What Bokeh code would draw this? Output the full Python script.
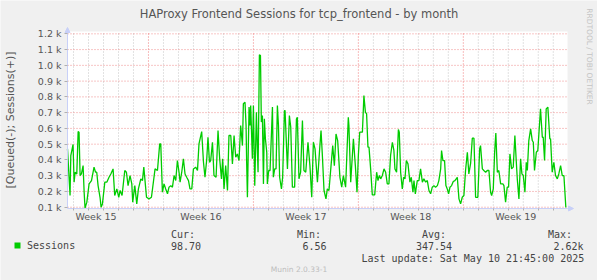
import math
from bokeh.plotting import figure
from bokeh.models import (Range1d, FixedTicker, Label, BoxAnnotation,
                          Arrow, NormalHead)
from bokeh.embed import file_html
from bokeh.resources import INLINE

# ---- data (days relative to start of Week 16, sessions) ----
days = [
    -5.40, -5.23, -5.18, -5.03, -4.96, -4.89, -4.78, -4.69, -4.63, -4.56,
    -4.47, -4.36, -4.29, -4.23, -4.11, -3.96, -3.80, -3.63, -3.53, -3.45,
    -3.36, -3.23, -3.16, -3.07, -2.91, -2.78, -2.63, -2.51, -2.36, -2.25,
    -2.11, -1.98, -1.89, -1.76, -1.58, -1.47, -1.36, -1.23, -1.11, -1.05,
    -0.91, -0.78, -0.67, -0.51, -0.40, -0.31, -0.13, 0.04, 0.20, 0.44,
    0.60, 0.75, 0.82,
    0.93, 1.04, 1.15, 1.27, 1.37, 1.49, 1.60, 1.71, 1.82, 1.93,
    2.04, 2.11, 2.22, 2.33, 2.44, 2.55, 2.67, 2.77, 2.89, 3.00,
    3.15, 3.27, 3.37, 3.55, 3.67, 3.77, 3.89, 3.97, 4.07, 4.15,
    4.27, 4.37, 4.51, 4.64, 4.75, 4.87, 4.95, 5.04, 5.15, 5.27,
    5.37, 5.49, 5.60, 5.71, 5.82, 5.93, 6.04, 6.15, 6.27, 6.33,
    6.44, 6.51, 6.55, 6.60, 6.71, 6.77, 6.82, 6.93, 7.00, 7.09,
    7.20, 7.27, 7.31, 7.40, 7.47, 7.53, 7.60, 7.67, 7.73, 7.80,
    7.89, 7.93, 8.02, 8.11,
    8.27, 8.33, 8.42, 8.51, 8.60, 8.67, 8.75, 8.87, 8.95, 9.07,
    9.11, 9.27, 9.40, 9.49, 9.60, 9.75, 9.87, 9.93, 10.04, 10.15,
    10.27, 10.37, 10.49, 10.64, 10.77, 10.89, 11.00, 11.11, 11.27, 11.42,
    11.51, 11.60, 11.71, 11.84, 11.93, 12.04, 12.29, 12.40, 12.51, 12.62,
    12.77, 12.89, 13.00, 13.15, 13.33, 13.37, 13.49, 13.67, 13.80, 13.91,
    14.00, 14.09,
    14.15, 14.27, 14.37, 14.47, 14.55, 14.64, 14.71, 14.82, 14.93, 15.09,
    15.22, 15.31, 15.40, 15.49, 15.60, 15.71, 15.82, 15.93, 16.04, 16.15,
    16.27, 16.37, 16.44, 16.55, 16.67, 16.73, 16.82, 16.93, 17.02, 17.11,
    17.20, 17.31, 17.44, 17.53, 17.64, 17.71, 17.80, 17.93, 18.04, 18.15,
    18.27, 18.37, 18.49, 18.60, 18.71, 18.82, 18.93, 19.04, 19.15, 19.27,
    19.37, 19.49, 19.55, 19.64, 19.75, 19.84, 19.93, 20.02, 20.11, 20.22,
    20.33, 20.44, 20.60, 20.71,
    20.82, 20.93, 21.04, 21.15, 21.27, 21.37, 21.49, 21.60, 21.71, 21.82,
    21.97, 22.09, 22.15, 22.27, 22.37, 22.49, 22.60, 22.71, 22.82, 22.89,
    23.00, 23.09, 23.17, 23.27, 23.37, 23.49, 23.64, 23.71, 23.82, 23.93,
    24.02, 24.11, 24.22, 24.33, 24.44, 24.53, 24.60, 24.71, 24.82, 24.91,
    25.00, 25.11, 25.20, 25.27, 25.37, 25.49, 25.60, 25.67, 25.75, 25.87,
    25.97, 26.15, 26.27, 26.33, 26.42, 26.53, 26.64, 26.77, 26.82, 26.93,
    27.04, 27.15, 27.27, 27.37, 27.49, 27.60, 27.71, 27.84,
]
sessions = [
    470, 174, 428, 498, 259, 322, 311, 580, 576, 301,
    311, 364, 195, 94, 132, 248, 269, 354, 322, 322,
    237, 163, 100, 121, 259, 259, 290, 311, 343, 174,
    216, 163, 206, 174, 333, 322, 237, 301, 248, 132,
    237, 121, 216, 280, 269, 354, 163, 153, 163, 343,
    333, 502, 502,
    195, 248, 216, 185, 227, 237, 227, 301, 269, 396,
    322, 259, 322, 407, 311, 290, 269, 216, 216, 343,
    354, 333, 502, 580, 385, 290, 407, 544, 385, 396,
    512, 301, 290, 586, 407, 280, 407, 216, 364, 206,
    555, 555, 375, 555, 417, 438, 396, 618, 491, 756,
    766, 618, 385, 163, 735, 618, 745, 407, 745, 237,
    703, 449, 322, 1067, 1062, 640, 682, 248, 661, 534,
    449, 248, 333, 333,
    735, 290, 343, 343, 745, 618, 290, 216, 290, 713,
    713, 343, 682, 608, 227, 227, 660, 671, 280, 322,
    650, 333, 322, 512, 364, 163, 512, 470, 259, 470,
    586, 428, 206, 153, 216, 206, 491, 364, 565, 523,
    290, 227, 301, 227, 671, 618, 259, 534, 364, 195,
    428, 576,
    576, 576, 808, 703, 692, 481, 481, 343, 178, 178,
    322, 269, 301, 280, 301, 343, 322, 248, 248, 428,
    512, 460, 343, 322, 593, 576, 322, 216, 290, 280,
    396, 375, 259, 290, 195, 269, 185, 269, 269, 343,
    259, 280, 259, 269, 206, 185, 227, 237, 227, 237,
    269, 343, 460, 396, 396, 237, 216, 185, 227, 237,
    263, 269, 290, 153,
    121, 163, 174, 333, 449, 311, 380, 538, 538, 163,
    163, 470, 491, 343, 333, 322, 333, 333, 195, 174,
    216, 449, 571, 322, 333, 248, 248, 237, 132, 227,
    227, 438, 343, 354, 555, 396, 280, 153, 407, 311,
    301, 195, 385, 333, 523, 597, 523, 512, 333, 449,
    460, 724, 544, 544, 396, 724, 735, 534, 534, 322,
    385, 301, 280, 311, 364, 301, 301, 99,
]

y_ticks = [100, 200, 300, 400, 500, 600, 700, 800, 900, 1000, 1100, 1200]
y_tick_labels = ["0.1 k", "0.2 k", "0.3 k", "0.4 k", "0.5 k", "0.6 k",
                 "0.7 k", "0.8 k", "0.9 k", "1.0 k", "1.1 k", "1.2 k"]
week_label_pos = [-3.5, 3.5, 10.5, 17.5, 24.5]
week_labels = ["Week 15", "Week 16", "Week 17", "Week 18", "Week 19"]
week_starts = [0, 7, 14, 21]

title = "HAProxy Frontend Sessions for tcp_frontend - by month"
y_label = "[Queued(-); Sessions(+)]"
series_name = "Sessions"
stat_names = ["Cur:", "Min:", "Avg:", "Max:"]
stat_values = ["98.70", "6.56", "347.54", "2.62k"]
last_update = "Last update: Sat May 10 21:45:00 2025"
watermark = "RRDTOOL / TOBI OETIKER"
footer = "Munin 2.0.33-1"

# ---- layout (canvas pixels) ----
W, H = 597, 280
PL, PR, PT, PB = 67, 567, 31, 208          # plot area edges
X0, X1 = -5.4, 27.95                       # data extent of plot area
Y0, Y1 = 91.8, 1214.8
sx = (X1 - X0) / (PR - PL)
sy = (Y1 - Y0) / (PB - PT)
x_range = Range1d(X0 - PL * sx, X1 + (W - PR) * sx)
y_range = Range1d(Y0 - (H - PB) * sy, Y1 + PT * sy)

GREEN = "#00cc00"
AXIS_BLUE = "#c8d0f8"
TXT = "#555555"
LEG = "#444444"
BG = "#f0f0f0"

p = figure(width=W, height=H, output_backend="svg", toolbar_location=None,
           x_range=x_range, y_range=y_range, min_border=0)
p.title.visible = False
p.background_fill_color = BG
p.border_fill_color = BG
p.outline_line_color = None
p.xgrid.visible = False
p.ygrid.visible = False

# white plot area
p.add_layout(BoxAnnotation(left=X0, right=X1, bottom=Y0, top=Y1,
                           fill_color="white", fill_alpha=1.0,
                           line_color=None, level="underlay"))

# y axis
yax = p.yaxis[0]
yax.fixed_location = X0
yax.bounds = (Y0, Y1)
yax.ticker = FixedTicker(ticks=y_ticks)
yax.major_label_overrides = {t: s for t, s in zip(y_ticks, y_tick_labels)}
yax.axis_line_color = AXIS_BLUE
yax.major_tick_line_color = "#b0b0b0"
yax.major_tick_out = 3
yax.major_tick_in = 0
yax.minor_tick_line_color = None
yax.major_label_standoff = 3
yax.major_label_text_font = "DejaVu Sans"
yax.major_label_text_font_size = "9.5px"
yax.major_label_text_color = TXT

# x axis
day_ticks = list(range(-5, 28))
xax = p.xaxis[0]
xax.fixed_location = Y0
xax.bounds = (X0, X1)
xax.ticker = FixedTicker(ticks=week_label_pos, minor_ticks=day_ticks)
xax.major_label_overrides = {t: s for t, s in zip(week_label_pos, week_labels)}
xax.axis_line_color = AXIS_BLUE
xax.major_tick_line_color = None
xax.major_tick_out = 0
xax.major_tick_in = 0
xax.minor_tick_line_color = "#b0b0b0"
xax.minor_tick_out = 2
xax.minor_tick_in = 0
xax.major_label_standoff = 0
xax.major_label_text_font = "DejaVu Sans"
xax.major_label_text_font_size = "9.5px"
xax.major_label_text_color = TXT

# grid lines (limited to the plot area)
minor_days = [d for d in day_ticks if d not in week_starts]
p.segment(x0=minor_days, y0=Y0, x1=minor_days, y1=Y1,
          line_color="#c4c4c4", line_dash="1 2", line_width=1)
p.segment(x0=X0, y0=y_ticks, x1=X1, y1=y_ticks,
          line_color="#ef8c8c", line_dash="1 2", line_width=1)
p.segment(x0=week_starts, y0=Y0, x1=week_starts, y1=Y1,
          line_color="#ef7c7c", line_dash="1 2", line_width=1)

# series
p.line(days, sessions, line_color=GREEN, line_width=1.3)

# axis arrows
p.add_layout(Arrow(end=NormalHead(size=5, fill_color=AXIS_BLUE,
                                  line_color=AXIS_BLUE),
                   x_start=X0, y_start=Y1, x_end=X0, y_end=Y1 + 4 * sy,
                   line_color=AXIS_BLUE, line_width=1))
p.add_layout(Arrow(end=NormalHead(size=5, fill_color=AXIS_BLUE,
                                  line_color=AXIS_BLUE),
                   x_start=X1, y_start=Y0, x_end=X1 + 6 * sx, y_end=Y0,
                   line_color=AXIS_BLUE, line_width=1))


def lab(cx, cy, text, size, font="DejaVu Sans", color=TXT, align="left",
        baseline="middle", angle=0.0):
    p.add_layout(Label(x=cx, y=H - cy, x_units="screen", y_units="screen",
                       text=text, text_font=font, text_font_size=size,
                       text_color=color, text_align=align,
                       text_baseline=baseline, angle=angle))


MONO = "DejaVu Sans Mono"
lab(298.5, 13.5, title, "11.5px", align="center")
lab(10, 119.5, y_label, "11px", align="center", angle=math.pi / 2)
lab(589, 56, watermark, "7.5px", color="#c4c4c4", align="center",
    angle=-math.pi / 2)

# legend
p.add_layout(BoxAnnotation(left=14, right=20, bottom=H - 248, top=H - 242,
                           left_units="screen", right_units="screen",
                           bottom_units="screen", top_units="screen",
                           fill_color=GREEN, fill_alpha=1.0, line_color=None))
lab(26.5, 245, series_name, "10px", font=MONO, color=LEG)
stat_x_name = [170.5, 296.5, 421.5, 547.5]
stat_x_val = [170.5, 302, 415.5, 553]
for nx, vx, n, v in zip(stat_x_name, stat_x_val, stat_names, stat_values):
    lab(nx, 234, n, "10px", font=MONO, color=LEG)
    lab(vx, 245.5, v, "10px", font=MONO, color=LEG)
lab(361, 257.5, last_update, "10px", font=MONO, color=LEG)
lab(298.5, 268.5, footer, "7.5px", color="#bdbdbd", align="center")

open("out.html", "w").write(file_html(p, INLINE))
